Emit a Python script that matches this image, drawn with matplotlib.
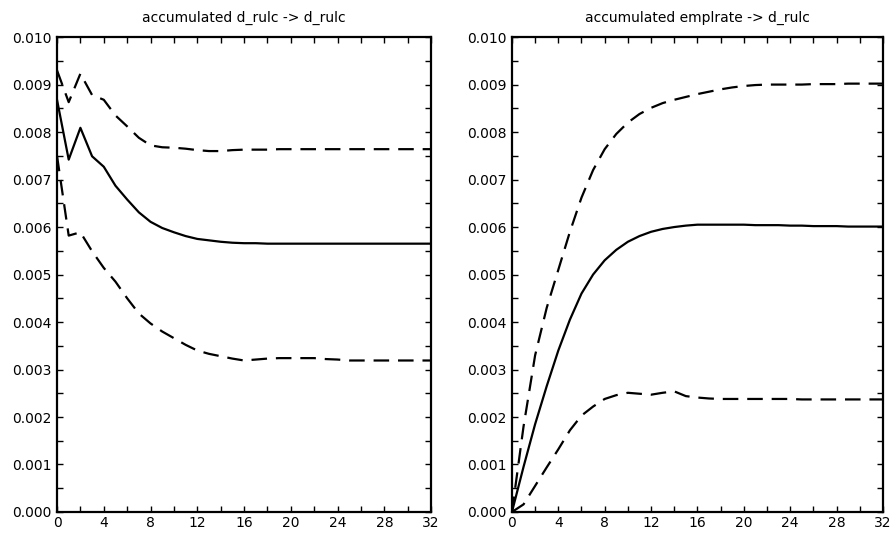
import matplotlib
matplotlib.use("Agg")
import matplotlib.pyplot as plt
from matplotlib.ticker import MultipleLocator, FormatStrFormatter

# --- DATA ---------------------------------------------------------------
steps = list(range(33))

# accumulated d_rulc -> d_rulc
rulc_mid = [0.00868, 0.00742, 0.00809, 0.00749, 0.00727, 0.00687, 0.00658,
            0.00631, 0.00611, 0.00598, 0.00589, 0.00581, 0.00575, 0.00572,
            0.00569, 0.00567, 0.00566, 0.00566, 0.00565, 0.00565, 0.00565,
            0.00565, 0.00565, 0.00565, 0.00565, 0.00565, 0.00565, 0.00565,
            0.00565, 0.00565, 0.00565, 0.00565, 0.00565]
rulc_hi = [0.00930, 0.00863, 0.00923, 0.00878, 0.00868, 0.00835, 0.00812,
           0.00788, 0.00772, 0.00768, 0.00767, 0.00765, 0.00762, 0.00760,
           0.00760, 0.00762, 0.00763, 0.00763, 0.00763, 0.00764, 0.00764,
           0.00764, 0.00764, 0.00764, 0.00764, 0.00764, 0.00764, 0.00764,
           0.00764, 0.00764, 0.00764, 0.00764, 0.00764]
rulc_lo = [0.00750, 0.00582, 0.00589, 0.00549, 0.00514, 0.00485, 0.00450,
           0.00418, 0.00397, 0.00380, 0.00366, 0.00352, 0.00340, 0.00333,
           0.00328, 0.00323, 0.00319, 0.00321, 0.00323, 0.00324, 0.00324,
           0.00324, 0.00324, 0.00322, 0.00321, 0.00319, 0.00319, 0.00319,
           0.00319, 0.00319, 0.00319, 0.00319, 0.00319]

# accumulated emplrate -> d_rulc
empl_mid = [0.0, 0.00095, 0.00185, 0.00265, 0.00340, 0.00405, 0.00460,
            0.00500, 0.00530, 0.00552, 0.00569, 0.00581, 0.00590, 0.00596,
            0.00600, 0.00603, 0.00605, 0.00605, 0.00605, 0.00605, 0.00605,
            0.00604, 0.00604, 0.00604, 0.00603, 0.00603, 0.00602, 0.00602,
            0.00602, 0.00601, 0.00601, 0.00601, 0.00601]
empl_hi = [0.0, 0.00180, 0.00330, 0.00430, 0.00510, 0.00590, 0.00662,
           0.00720, 0.00764, 0.00796, 0.00820, 0.00838, 0.00851, 0.00861,
           0.00868, 0.00874, 0.00880, 0.00885, 0.00890, 0.00894, 0.00897,
           0.00899, 0.00900, 0.00900, 0.00900, 0.00900, 0.00901, 0.00901,
           0.00901, 0.00902, 0.00902, 0.00902, 0.00902]
empl_lo = [0.0, 0.00016, 0.00055, 0.00094, 0.00132, 0.00172, 0.00203,
           0.00222, 0.00238, 0.00246, 0.00251, 0.00249, 0.00247, 0.00251,
           0.00254, 0.00244, 0.00241, 0.00239, 0.00238, 0.00238, 0.00238,
           0.00238, 0.00238, 0.00238, 0.00238, 0.00237, 0.00237, 0.00237,
           0.00237, 0.00237, 0.00237, 0.00237, 0.00237]

titles = ["accumulated d_rulc -> d_rulc", "accumulated emplrate -> d_rulc"]
# ------------------------------------------------------------------------


def draw_panel(ax, title, mid, hi, lo):
    ax.plot(steps, mid, color="black", lw=1.6)
    ax.plot(steps, hi, color="black", lw=1.6, dashes=(7, 4))
    ax.plot(steps, lo, color="black", lw=1.6, dashes=(7, 4))

    ax.set_xlim(0, 32)
    ax.set_ylim(0, 0.010)
    ax.xaxis.set_major_locator(MultipleLocator(4))
    ax.xaxis.set_minor_locator(MultipleLocator(2))
    ax.yaxis.set_major_locator(MultipleLocator(0.001))
    ax.yaxis.set_minor_locator(MultipleLocator(0.0005))
    ax.yaxis.set_major_formatter(FormatStrFormatter("%.3f"))
    ax.tick_params(which="both", direction="in", top=True, right=True,
                   length=4, width=1, labelsize=10)
    ax.tick_params(axis="y", pad=4)
    ax.tick_params(axis="x", pad=3)
    for sp in ax.spines.values():
        sp.set_linewidth(1.6)
    ax.set_title(title, fontsize=10, pad=11)


fig = plt.figure(figsize=(8.95, 5.36), dpi=100)
ax1 = fig.add_axes([0.0637, 0.0448, 0.418, 0.886])
ax2 = fig.add_axes([0.572, 0.0448, 0.4145, 0.886])

draw_panel(ax1, titles[0], rulc_mid, rulc_hi, rulc_lo)
draw_panel(ax2, titles[1], empl_mid, empl_hi, empl_lo)

fig.savefig("out.png", dpi=100)
